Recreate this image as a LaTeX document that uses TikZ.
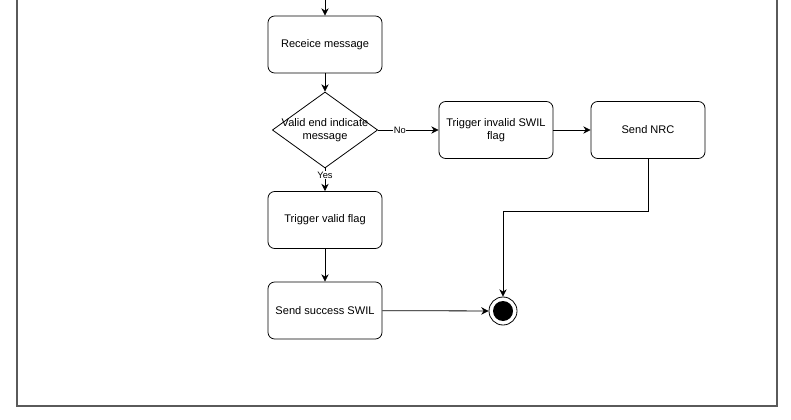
\documentclass[tikz,border=0pt]{standalone}
\usepackage{fontspec}
\setmainfont{Liberation Sans}
\usetikzlibrary{shapes.geometric,arrows.meta,positioning,calc}
\definecolor{FrameGray}{RGB}{90, 90, 90}

\tikzset{
  statebox/.style={draw, rounded corners=5pt, minimum width=85.5pt, minimum height=42.75pt,
    align=center, font=\fontsize{8.3}{10}\selectfont, line width=0.6pt},
  choice/.style={draw, diamond, minimum width=79pt, minimum height=57pt, inner sep=0pt, line width=0.6pt},
  flow/.style={-{Stealth[length=5.5pt, width=5.5pt]}, line width=0.6pt},
  branch/.style={fill=white, inner sep=0.5pt, font=\fontsize{7}{8}\selectfont}
}

\begin{document}
\begin{tikzpicture}[x=0.75pt, y=-0.75pt]
  \useasboundingbox (0,0) rectangle (791,420);

  % Frame (top edge is off the page)
  \draw[FrameGray, line width=0.9pt] (17,0) -- (17,406) -- (777,406) -- (777,0);

  % Main column
  \coordinate (entry) at (325,0);
  \node[statebox] (receive) at (325,44.5) {Receice message};
  \node[choice] (decision) at (325,130) {};
  \node[align=center, font=\fontsize{8.3}{10}\selectfont] (decisiontext) at (325,130) {Valid end indicate\\message};
  \node[statebox] (validflag) at (325,220) {Trigger valid flag};
  \node[statebox] (success) at (325,310.5) {Send success SWIL};

  % Failure branch
  \node[statebox] (invalidflag) at (496,130) {Trigger invalid SWIL\\flag};
  \node[statebox] (nrc) at (648,130) {Send NRC};

  % Final state
  \node[circle, draw, line width=0.6pt, minimum size=21pt, inner sep=0pt] (final) at (503,311) {};
  \fill (final) circle (10);
  \coordinate (nrcturn) at (648,211);

  % Connectors
  \draw[flow] (entry) -- (receive);
  \draw[flow] (receive) -- (decision);
  \draw[flow] (decision) -- node[branch, pos=0.3] {Yes} (validflag);
  \draw[flow] (decision) -- node[branch, pos=0.36] {No} (invalidflag);
  \draw[flow] (invalidflag) -- (nrc);
  \draw[flow] (validflag) -- (success);
  \draw[flow] (success) -- (final);
  \draw[flow] (nrc) -- (nrcturn) -| (final);
\end{tikzpicture}
\end{document}
